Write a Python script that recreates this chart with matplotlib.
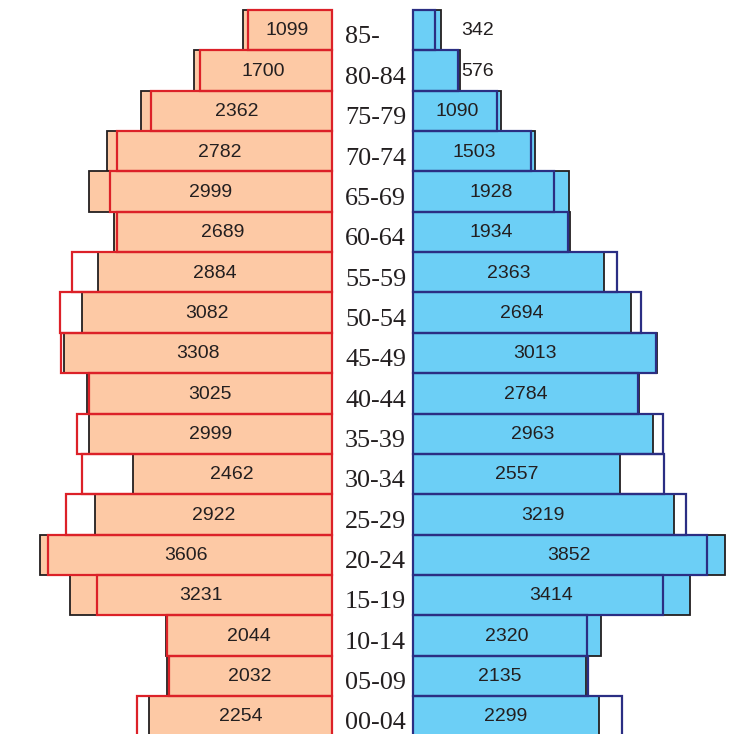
import matplotlib.pyplot as plt
import numpy as np

# age groups, top to bottom
ages = ['85-', '80-84', '75-79', '70-74', '65-69', '60-64', '55-59', '50-54', '45-49',
        '40-44', '35-39', '30-34', '25-29', '20-24', '15-19', '10-14', '05-09', '00-04']

# left side (filled bars, labelled) and the outlined comparison bars
female = [1099, 1700, 2362, 2782, 2999, 2689, 2884, 3082, 3308,
          3025, 2999, 2462, 2922, 3606, 3231, 2044, 2032, 2254]
female_prev = [1042, 1632, 2237, 2654, 2740, 2654, 3214, 3358, 3350,
               3004, 3148, 3086, 3280, 3507, 2901, 2031, 2010, 2402]

# right side
male = [342, 576, 1090, 1503, 1928, 1934, 2363, 2694, 3013,
        2784, 2963, 2557, 3219, 3852, 3414, 2320, 2135, 2299]
male_prev = [268, 560, 1037, 1453, 1745, 1915, 2523, 2811, 2995,
             2780, 3082, 3103, 3374, 3626, 3086, 2144, 2164, 2580]

W, H = 747, 734
fig = plt.figure(figsize=(W / 100, H / 100), dpi=100)
fig.patch.set_facecolor('white')

px = 0.081  # pixels per person
y = np.arange(len(ages))[::-1]
ylim = (-0.443, 17.748)

ax_l = fig.add_axes([0, 0, 332 / W, 1])
ax_r = fig.add_axes([413 / W, 0, (W - 413) / W, 1])

dark = '#231F20'
num_font = dict(fontsize=14, color=dark, family='Liberation Sans')

# left
ax_l.barh(y, female, height=1, color='#FDC9A5', edgecolor=dark, linewidth=1.3, clip_on=False)
ax_l.barh(y, female_prev, height=1, fill=False, edgecolor='#DC2128', linewidth=1.6, clip_on=False)
ax_l.set_xlim(332 / px, 0)
ax_l.set_ylim(*ylim)
for yi, v in zip(y, female):
    ax_l.text(v / 2, yi - 0.02, str(v), ha='center', va='center', **num_font)

# right
ax_r.barh(y, male, height=1, color='#6CCFF6', edgecolor=dark, linewidth=1.3, clip_on=False)
ax_r.barh(y, male_prev, height=1, fill=False, edgecolor='#2B2E83', linewidth=1.6, clip_on=False)
ax_r.set_xlim(0, (W - 413) / px)
ax_r.set_ylim(*ylim)
for yi, v in zip(y, male):
    if v < 800:
        ax_r.text(600, yi - 0.02, str(v), ha='left', va='center', **num_font)
    else:
        ax_r.text(v / 2, yi - 0.02, str(v), ha='center', va='center', **num_font)

for ax in (ax_l, ax_r):
    ax.axis('off')

# age labels in the middle
for yi, a in zip(y, ages):
    fy = (yi - 0.33 - ylim[0]) / (ylim[1] - ylim[0])
    fig.text(345 / W, fy, a, ha='left', va='baseline', fontsize=18.8,
             color=dark, family='Liberation Serif')

fig.savefig('out.png', dpi=100)
